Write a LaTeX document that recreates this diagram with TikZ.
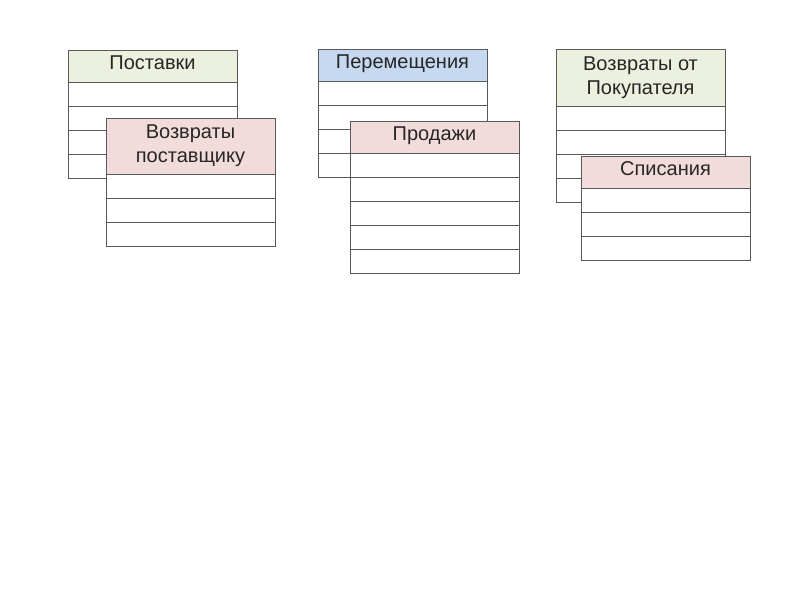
\documentclass[tikz,border=0pt]{standalone}
\usepackage{fontspec}
\setmainfont{Liberation Sans}
\usetikzlibrary{positioning}
\definecolor{hdrgreen}{HTML}{EBF1DE}
\definecolor{hdrblue}{HTML}{C6D9F1}
\definecolor{hdrpink}{HTML}{F2DCDB}
\definecolor{gridgray}{HTML}{595959}
\tikzset{
  cell/.style={draw=gridgray, line width=1pt, fill=white, minimum width=169pt,
    minimum height=24pt, inner sep=0pt, outer sep=0pt},
  hdrone/.style={cell, font=\fontsize{20}{24}\selectfont, text=black!85,
    anchor=north west, minimum height=32pt, text height=13pt, text depth=7pt},
  hdrtwo/.style={cell, font=\fontsize{20}{24}\selectfont, text=black!85,
    anchor=north west, align=center},
}
\begin{document}
\begin{tikzpicture}[x=1pt,y=-1pt]
  \useasboundingbox (0,0) rectangle (800,600);
  % Поставки
  \node[hdrone, fill=hdrgreen] (post) at (68,50) {Поставки};
  \node[cell, below=0pt of post] (post1) {};
  \node[cell, below=0pt of post1] (post2) {};
  \node[cell, below=0pt of post2] (post3) {};
  \node[cell, below=0pt of post3] (post4) {};
  % Возвраты поставщику
  \node[hdrtwo, fill=hdrpink, minimum height=56pt] (vpost) at (106,118) {Возвраты\\поставщику};
  \node[cell, below=0pt of vpost] (vpost1) {};
  \node[cell, below=0pt of vpost1] (vpost2) {};
  \node[cell, below=0pt of vpost2] (vpost3) {};
  % Перемещения
  \node[hdrone, fill=hdrblue] (perem) at (318,49) {Перемещения};
  \node[cell, below=0pt of perem] (perem1) {};
  \node[cell, below=0pt of perem1] (perem2) {};
  \node[cell, below=0pt of perem2] (perem3) {};
  \node[cell, below=0pt of perem3] (perem4) {};
  % Продажи
  \node[hdrone, fill=hdrpink] (prod) at (350,121) {Продажи};
  \node[cell, below=0pt of prod] (prod1) {};
  \node[cell, below=0pt of prod1] (prod2) {};
  \node[cell, below=0pt of prod2] (prod3) {};
  \node[cell, below=0pt of prod3] (prod4) {};
  \node[cell, below=0pt of prod4] (prod5) {};
  % Возвраты от Покупателя
  \node[hdrtwo, fill=hdrgreen, minimum height=57pt] (vpok) at (556,49) {Возвраты от\\Покупателя};
  \node[cell, below=0pt of vpok] (vpok1) {};
  \node[cell, below=0pt of vpok1] (vpok2) {};
  \node[cell, below=0pt of vpok2] (vpok3) {};
  \node[cell, below=0pt of vpok3] (vpok4) {};
  % Списания
  \node[hdrone, fill=hdrpink] (spis) at (581,156) {Списания};
  \node[cell, below=0pt of spis] (spis1) {};
  \node[cell, below=0pt of spis1] (spis2) {};
  \node[cell, below=0pt of spis2] (spis3) {};
\end{tikzpicture}
\end{document}
